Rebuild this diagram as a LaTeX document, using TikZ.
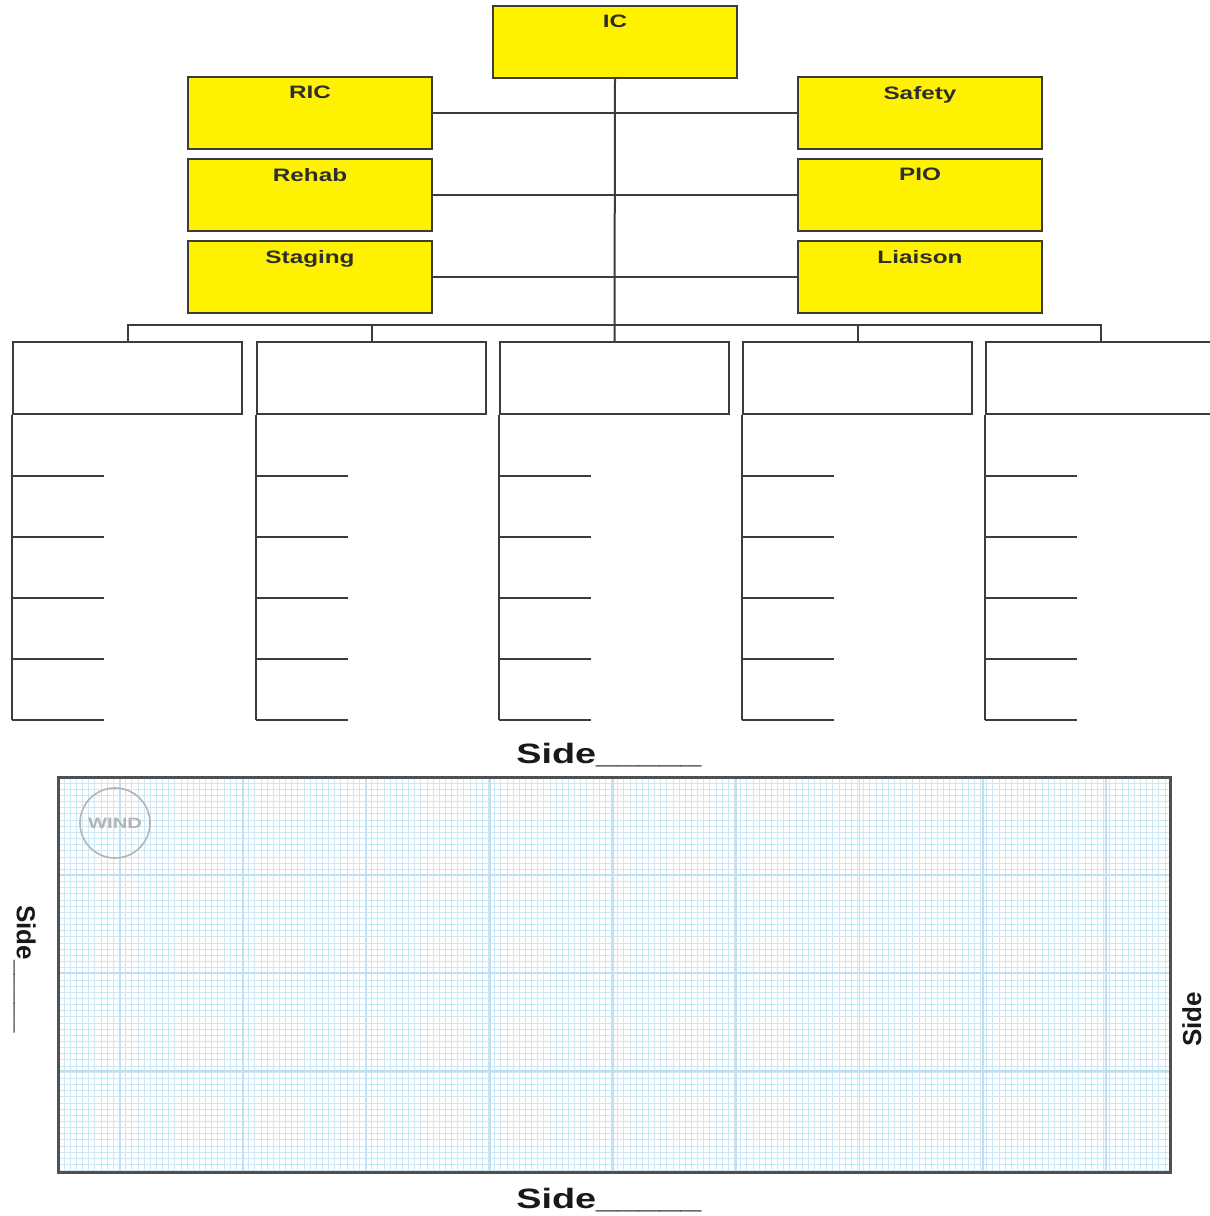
\documentclass[tikz,border=0pt]{standalone}
\usepackage{fontspec}
\newfontfamily\widesans[FakeStretch=1.35]{Liberation Sans}
\newfontfamily\plainsans{Liberation Sans}
\definecolor{linec}{HTML}{3C3C3C}
\definecolor{boxy}{HTML}{FFF200}
\definecolor{txtc}{HTML}{2E2E2E}
\definecolor{gminor}{HTML}{CBE6F5}
\definecolor{gmajor}{HTML}{BEE0F2}
\definecolor{windc}{HTML}{B4B4B4}
\begin{document}
\begin{tikzpicture}[x=0.5pt,y=-0.5pt,
  ln/.style={draw=linec, line width=1pt},
  boxtxt/.style={anchor=north, inner sep=0pt, yshift=-5pt, text=txtc,
    font=\widesans\bfseries\fontsize{9}{10}\selectfont},
  ybox/.style={ln, fill=boxy, minimum width=122pt, minimum height=36pt,
    inner sep=0pt, anchor=north west},
  wbox/.style={ln, fill=white, minimum width=114.5pt, minimum height=36pt,
    inner sep=0pt, anchor=north west},
  sidetxt/.style={inner sep=0pt, text=black!90,
    font=\widesans\bfseries\fontsize{14}{16}\selectfont},
  sidetxtv/.style={inner sep=0pt, text=black!90,
    font=\plainsans\bfseries\fontsize{13}{15}\selectfont},
  gline/.style={draw=gminor, line width=0.45pt},
  gmaj/.style={draw=gmajor, line width=0.8pt}
]
\fill[white] (0,0) rectangle (1210,1216);
\useasboundingbox (0,0) rectangle (1210,1216);

% ---- yellow boxes ----
\node[ybox, label={[boxtxt]north:IC}] (ic) at (492,5) {};
\node[ybox, label={[boxtxt]north:RIC}] (ric) at (187,76) {};
\node[ybox, label={[boxtxt]north:Rehab}] (rehab) at (187,158) {};
\node[ybox, label={[boxtxt]north:Staging}] (staging) at (187,240) {};
\node[ybox, label={[boxtxt]north:Safety}] (safety) at (797,76) {};
\node[ybox, label={[boxtxt]north:PIO}] (pio) at (797,158) {};
\node[ybox, label={[boxtxt]north:Liaison}] (liaison) at (797,240) {};

% ---- white boxes ----
\node[wbox] (w1) at (12,341) {};
\node[wbox] (w2) at (256,341) {};
\node[wbox] (w3) at (499,341) {};
\node[wbox] (w4) at (742,341) {};
\node[wbox] (w5) at (985,341) {};

% ---- connectors ----
\draw[ln] (ric.east) -- (safety.west);
\draw[ln] (rehab.east) -- (pio.west);
\draw[ln] (staging.east) -- (liaison.west);
\draw[ln] (ic.south) -- (w3.north);
\coordinate (bus) at (614,325);
\draw[ln] (w1.north) -- (w1.north |- bus) -- (w5.north |- bus) -- (w5.north);
\draw[ln] (w2.north) -- (w2.north |- bus);
\draw[ln] (w4.north) -- (w4.north |- bus);

% ---- lists under the white boxes ----
\foreach \w in {w1,w2,w3,w4,w5}{
  \draw[ln] (\w.south west) -- ++(0,305);
  \foreach \t in {61,122,183,244,305}{
    \draw[ln] (\w.south west) ++(0,\t) -- ++(92,0);
  }
}

% ---- grid paper ----
\foreach \i in {0,...,180}{
  \draw[gline] ({58+\i*6.15},777) -- ({58+\i*6.15},1172);
}
\foreach \j in {0,...,64}{
  \draw[gline] (58,{777+\j*6.15}) -- (1170,{777+\j*6.15});
}
\foreach \k in {0,...,8}{
  \draw[gmaj] ({120+\k*123.25},777) -- ({120+\k*123.25},1172);
}
\foreach \yy in {875,973,1071}{
  \draw[gmaj] (58,\yy) -- (1170,\yy);
}
\draw[draw=linec!90, line width=1.5pt] (58,777) rectangle (1170,1172);

\node[circle, draw=windc, line width=0.8pt, minimum size=35pt, inner sep=0pt,
  text=windc, font=\widesans\bfseries\fontsize{7.5}{8}\selectfont] (wind) at (115,823) {WIND};

% ---- side labels ----
\node[sidetxt, anchor=base west] (stop) at (516,763) {Side\_\_\_\_\_};
\node[sidetxt, anchor=base west] (sbottom) at (516,1208) {Side\_\_\_\_\_};
\node[sidetxtv, rotate=-90, anchor=base west] (sleft) at (17,905) {Side\_\_\_\_\_};
\node[sidetxtv, rotate=90, anchor=base west] (sright) at (1201,1047) {Side};
\end{tikzpicture}
\end{document}
